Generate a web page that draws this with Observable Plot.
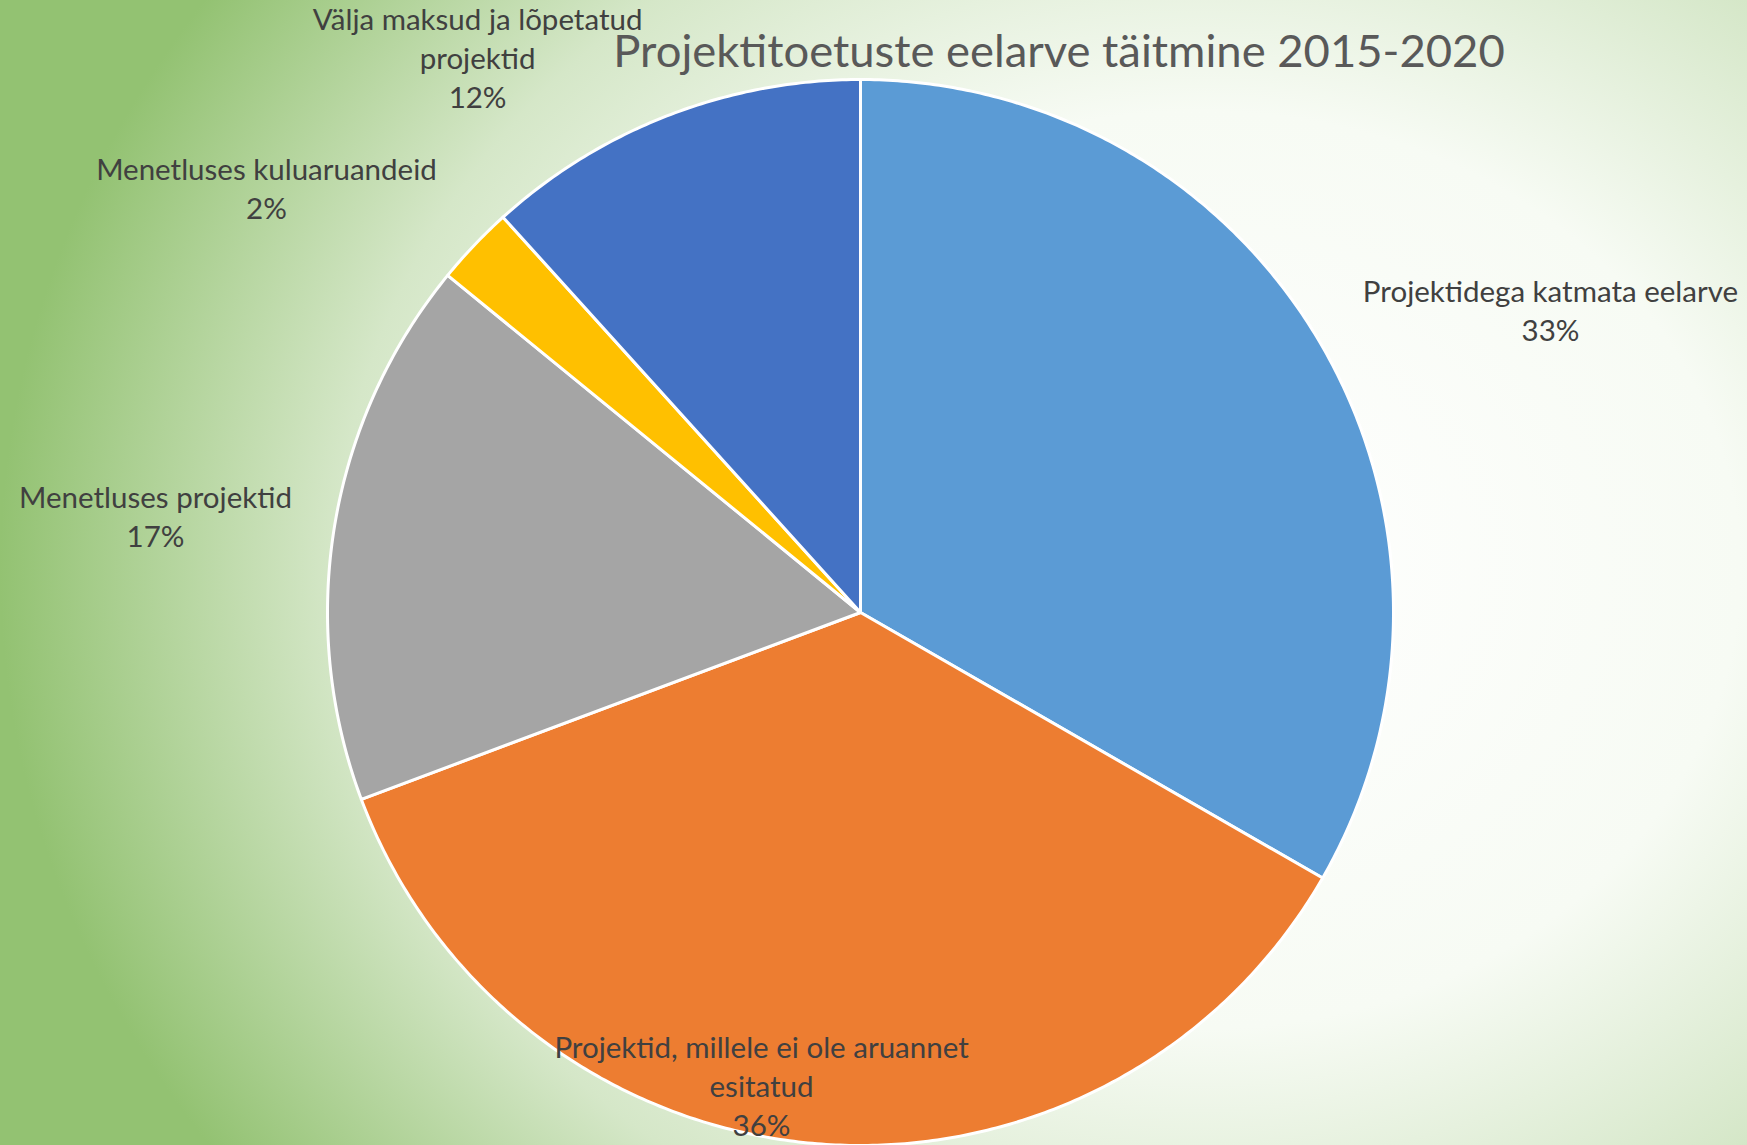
<!DOCTYPE html>
<html>
<head>
<meta charset="utf-8">
<script src="https://cdn.jsdelivr.net/npm/d3@7"></script>
<script src="https://cdn.jsdelivr.net/npm/@observablehq/plot@0.6"></script>
<style>
  html, body { margin: 0; padding: 0; }
  body {
    width: 1747px; height: 1145px; overflow: hidden;
    background: radial-gradient(1200px 1020px at 1200px 570px, #ffffff 0%, #f7fbf4 45%, #d5e7c8 72%, #93c272 100%);
  }
  #wrap { position: relative; width: 1747px; height: 1145px; }
  #title {
    position: absolute; left: 559px; width: 1000px; top: 27px;
    text-align: center; font-family: Lato, "Open Sans", sans-serif;
    font-size: 45.4px; line-height: 1; color: #595959; white-space: nowrap;
  }
  #chart { position: absolute; left: 0; top: 0; }
  #chart svg { background: transparent !important; }
</style>
</head>
<body>
<div id="wrap">
  <div id="chart"></div>
  <div id="title">Projektitoetuste eelarve täitmine 2015-2020</div>
</div>
<script>
// ---- data ----
const categories = [
  "Projektidega katmata eelarve",
  "Projektid, millele ei ole aruannet esitatud",
  "Menetluses projektid",
  "Menetluses kuluaruandeid",
  "Välja maksud ja lõpetatud projektid"
];
const shares = [33.3, 36.0, 16.6, 2.4, 11.7];
// label text as wrapped in the original
const labelNames = [
  "Projektidega katmata eelarve",
  "Projektid, millele ei ole aruannet\nesitatud",
  "Menetluses projektid",
  "Menetluses kuluaruandeid",
  "Välja maksud ja lõpetatud\nprojektid"
];
const sliceColors = ["#5b9bd5", "#ed7d31", "#a5a5a5", "#ffc000", "#4472c4"];

// ---- label layout (best-fit placement: radius in pie radii, angle nudge in degrees) ----
const labelRadius = [1.412, 0.910, 1.3345, 1.3677, 1.262];
const labelShift = [6.52, 7.09, -1.73, -8.14, -13.64];

// ---- geometry from data ----
const total = d3.sum(shares);
const arcs = d3.pie().sort(null).startAngle(0).endAngle(2 * Math.PI)(shares);

const pts = [];
arcs.forEach((a, i) => {
  const key = categories[i];
  pts.push({key, x: 0, y: 0});
  const n = Math.max(4, Math.ceil((a.endAngle - a.startAngle) / (Math.PI / 360)));
  for (let k = 0; k <= n; k++) {
    const t = a.startAngle + (a.endAngle - a.startAngle) * k / n;
    pts.push({key, x: Math.sin(t), y: Math.cos(t)});
  }
});

const labels = arcs.map((a, i) => {
  const mid = (a.startAngle + a.endAngle) / 2 + labelShift[i] * Math.PI / 180;
  return {
    key: categories[i],
    x: labelRadius[i] * Math.sin(mid),
    y: labelRadius[i] * Math.cos(mid),
    text: labelNames[i] + "\n" + Math.round(shares[i] / total * 100) + "%"
  };
});

const chart = Plot.plot({
  width: 1747,
  height: 1145,
  marginLeft: 327,
  marginRight: 354,
  marginTop: 79,
  marginBottom: 0,
  style: {background: "transparent", fontFamily: "Lato, 'Open Sans', sans-serif", overflow: "visible"},
  x: {domain: [-1, 1], axis: null},
  y: {domain: [-1, 1], axis: null},
  color: {domain: categories, range: sliceColors},
  marks: [
    Plot.line(pts, {
      x: "x", y: "y", z: "key", fill: "key",
      stroke: "white", strokeWidth: 3, strokeLinejoin: "round",
      curve: "linear-closed"
    }),
    Plot.text(labels, {
      x: "x", y: "y", text: "text",
      fontSize: 29.5, lineHeight: 1.32, fill: "#404040",
      textAnchor: "middle", lineAnchor: "middle", dy: -3
    })
  ]
});
document.getElementById("chart").appendChild(chart);
</script>
</body>
</html>
